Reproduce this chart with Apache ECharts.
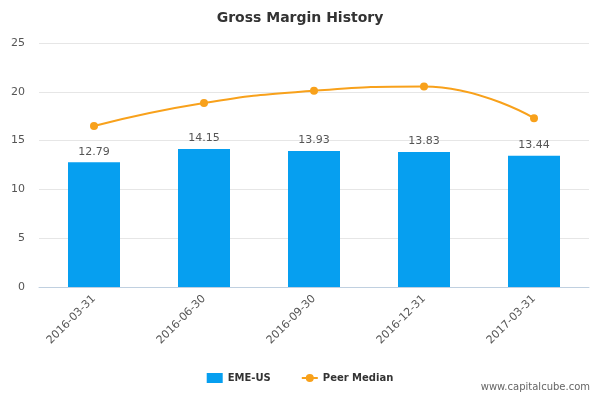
<!DOCTYPE html>
<html><head><meta charset="utf-8">
<script src="https://cdn.jsdelivr.net/npm/echarts@6/dist/echarts.min.js"></script>
<style>html,body{margin:0;padding:0;background:#fff}#c{width:600px;height:400px}</style>
</head><body><div id="c"></div>
<script>
const categories = ['2016-03-31','2016-06-30','2016-09-30','2016-12-31','2017-03-31'];
const emeValues = [12.79, 14.15, 13.93, 13.83, 13.44];
const peerValues = [16.5, 18.85, 20.1, 20.55, 17.3];
const chart = echarts.init(document.getElementById('c'));
chart.setOption({
  animation: false,
  title: {text: 'Gross Margin History', left: 'center', top: 6,
    textStyle: {fontFamily: 'DejaVu Sans', fontSize: 14, fontWeight: 'bold', color: '#333'}},
  grid: {left: 39, right: 11, top: 43, bottom: 113},
  xAxis: {type: 'category', data: categories,
    axisLine: {lineStyle: {color: '#c0d0e0'}},
    axisTick: {length: 8, lineStyle: {color: '#c0d0e0'}},
    axisLabel: {rotate: 45, color: '#555', fontFamily: 'DejaVu Sans', fontSize: 11, margin: 10}},
  yAxis: {type: 'value', min: 0, max: 25, interval: 5,
    splitLine: {lineStyle: {color: '#e6e6e6'}},
    axisLabel: {color: '#555', fontFamily: 'DejaVu Sans', fontSize: 11, margin: 14}},
  legend: {bottom: 12, left: 'center', itemGap: 30, itemWidth: 16, itemHeight: 10,
    textStyle: {fontFamily: 'DejaVu Sans', fontSize: 10, fontWeight: 'bold', color: '#333'},
    data: [{name: 'EME-US', icon: 'rect'}, {name: 'Peer Median'}]},
  series: [
    {name: 'EME-US', type: 'bar', data: emeValues, barWidth: 52,
      itemStyle: {color: '#069ff0'},
      label: {show: true, position: 'top', color: '#555', fontFamily: 'DejaVu Sans', fontSize: 11,
        formatter: p => p.value.toFixed(2)}},
    {name: 'Peer Median', type: 'line', data: peerValues, smooth: true,
      symbol: 'circle', symbolSize: 8,
      itemStyle: {color: '#f8a11b'}, lineStyle: {color: '#f8a11b', width: 2}}
  ],
  graphic: [{type: 'text', right: 10, bottom: 8,
    style: {text: 'www.capitalcube.com', fill: '#666', font: '10px DejaVu Sans'}}]
});
</script></body></html>
